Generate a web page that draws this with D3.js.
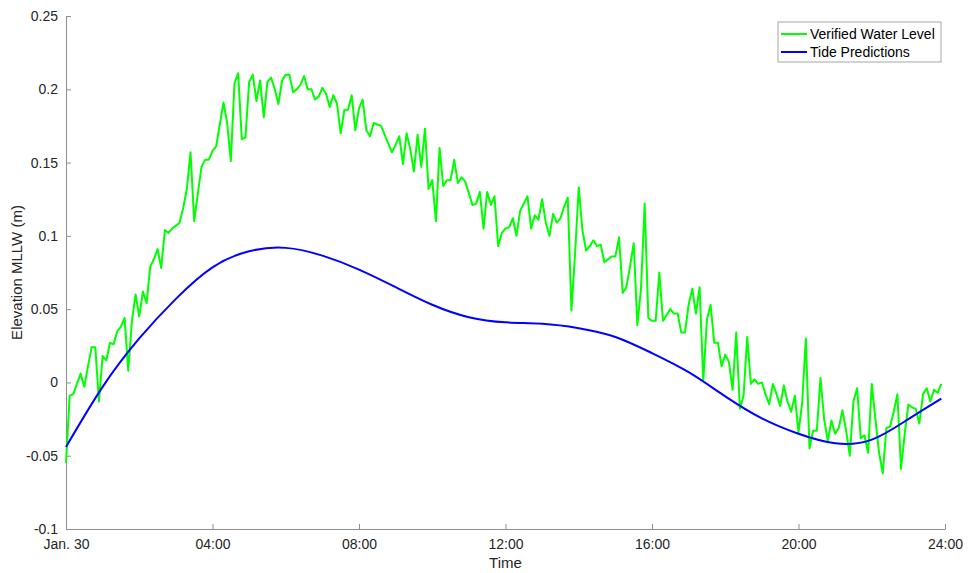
<!DOCTYPE html>
<html>
<head>
<meta charset="utf-8">
<script src="https://cdn.jsdelivr.net/npm/d3@7"></script>
<style>
  body { margin: 0; background: #fff; }
  svg { display: block; font-family: Helvetica, Arial, "Liberation Sans", sans-serif; }
  .axis path, .axis line { stroke: #8f8f8f; }
  .axis text { fill: #262626; font-size: 14px; }
  .axis-label { fill: #262626; font-size: 15px; }
  .legend text { fill: #000; font-size: 14px; }
</style>
</head>
<body>
<div id="chart"></div>
<script>
// verified water level, one reading every 6 minutes from 00:00 (metres, MLLW)
var verifiedStepHours = 0.1;
var verifiedLevel = [
  -0.055, -0.009, -0.008, -0.001, 0.006, -0.003, 0.011, 0.024, 0.024, -0.013,
  0.018, 0.015, 0.027, 0.026, 0.035, 0.038, 0.044, 0.008, 0.042, 0.060,
  0.045, 0.062, 0.054, 0.079, 0.084, 0.091, 0.078, 0.104, 0.102, 0.105,
  0.107, 0.109, 0.119, 0.132, 0.157, 0.110, 0.129, 0.147, 0.152, 0.152,
  0.158, 0.161, 0.176, 0.191, 0.177, 0.151, 0.204, 0.211, 0.166, 0.167,
  0.205, 0.210, 0.192, 0.206, 0.181, 0.205, 0.208, 0.200, 0.190, 0.206,
  0.210, 0.210, 0.198, 0.200, 0.203, 0.209, 0.200, 0.200, 0.193, 0.195,
  0.201, 0.197, 0.188, 0.196, 0.190, 0.170, 0.186, 0.186, 0.196, 0.172,
  0.187, 0.193, 0.172, 0.168, 0.177, 0.176, 0.175, 0.169, 0.163, 0.157,
  0.162, 0.168, 0.149, 0.170, 0.159, 0.144, 0.169, 0.147, 0.173, 0.132,
  0.138, 0.110, 0.160, 0.134, 0.138, 0.138, 0.152, 0.136, 0.140, 0.137,
  0.129, 0.121, 0.122, 0.130, 0.105, 0.130, 0.121, 0.127, 0.093, 0.102,
  0.105, 0.106, 0.112, 0.100, 0.117, 0.122, 0.127, 0.105, 0.114, 0.111,
  0.125, 0.109, 0.100, 0.115, 0.109, 0.112, 0.120, 0.126, 0.049, 0.088,
  0.133, 0.104, 0.090, 0.093, 0.097, 0.093, 0.094, 0.082, 0.084, 0.086,
  0.086, 0.099, 0.061, 0.065, 0.079, 0.095, 0.039, 0.064, 0.122, 0.044,
  0.042, 0.042, 0.075, 0.042, 0.046, 0.050, 0.047, 0.047, 0.034, 0.034,
  0.053, 0.064, 0.047, 0.065, 0.001, 0.043, 0.053, 0.027, 0.027, 0.011,
  0.019, 0.014, -0.005, 0.034, -0.018, -0.009, 0.031, -0.001, 0.002, -0.001,
  0.000, -0.008, -0.015, -0.001, -0.008, -0.016, -0.002, -0.013, -0.020, -0.009,
  -0.034, -0.014, 0.030, -0.045, -0.033, -0.033, 0.003, -0.025, -0.040, -0.026,
  -0.035, -0.031, -0.019, -0.033, -0.050, -0.013, -0.004, -0.038, -0.036, -0.048,
  -0.001, -0.025, -0.048, -0.062, -0.031, -0.030, -0.020, -0.008, -0.059, -0.035,
  -0.015, -0.017, -0.018, -0.028, -0.008, -0.004, -0.013, -0.005, -0.007, -0.001
];

// tide predictions (hours, metres)
var predictionHours = [0, 1, 2, 3, 4, 5, 6, 7, 8, 9, 10, 11, 12, 13, 14, 15, 16, 17, 18, 19, 20, 21, 22, 23, 23.9];
var predictionLevel = [
  -0.044, -0.003, 0.030, 0.057, 0.0785, 0.0895, 0.0918, 0.0865, 0.077, 0.065,
  0.053, 0.0445, 0.041, 0.040, 0.037, 0.031, 0.020, 0.007, -0.0095, -0.0245,
  -0.035, -0.0415, -0.039, -0.025, -0.011
];

var xTickHours = [0, 4, 8, 12, 16, 20, 24];
var xTickLabels = ["Jan. 30", "04:00", "08:00", "12:00", "16:00", "20:00", "24:00"];
var yTickValues = [-0.1, -0.05, 0, 0.05, 0.1, 0.15, 0.2, 0.25];
var yTickLabels = ["-0.1", "-0.05", "0", "0.05", "0.1", "0.15", "0.2", "0.25"];

var seriesNames = ["Verified Water Level", "Tide Predictions"];
var seriesColors = ["#00ff00", "#0000ff"];

(function () {
'use strict';

var width = 971;
var height = 573;
var margin = { top: 16, right: 26, bottom: 44, left: 66 };
var plotW = width - margin.left - margin.right;
var plotH = height - margin.top - margin.bottom;

var svg = d3.select("#chart").append("svg")
    .attr("width", width)
    .attr("height", height);

var g = svg.append("g")
    .attr("transform", "translate(" + margin.left + "," + margin.top + ")");

var x = d3.scaleLinear().domain([0, 24]).range([0, plotW]);
var y = d3.scaleLinear().domain([-0.1, 0.25]).range([plotH, 0]);

var verified = verifiedLevel.map(function (v, i) {
    return { t: i * verifiedStepHours, v: v };
});
var predicted = predictionHours.map(function (h, i) {
    return { t: h, v: predictionLevel[i] };
});

function drawAxes() {
    var xAxis = d3.axisBottom(x)
        .tickValues(xTickHours)
        .tickFormat(function (d, i) { return xTickLabels[i]; })
        .tickSizeInner(-5)
        .tickSizeOuter(0)
        .tickPadding(10);

    var yAxis = d3.axisLeft(y)
        .tickValues(yTickValues)
        .tickFormat(function (d, i) { return yTickLabels[i]; })
        .tickSizeInner(-5)
        .tickSizeOuter(0)
        .tickPadding(8);

    g.append("g")
        .attr("class", "axis axis--x")
        .attr("transform", "translate(0," + plotH + ")")
        .call(xAxis);

    g.append("g")
        .attr("class", "axis axis--y")
        .call(yAxis);

    g.append("text")
        .attr("class", "axis-label")
        .attr("x", plotW / 2)
        .attr("y", plotH + 39)
        .attr("text-anchor", "middle")
        .text("Time");

    g.append("text")
        .attr("class", "axis-label")
        .attr("transform", "translate(" + (-44) + "," + (plotH / 2) + ") rotate(-90)")
        .attr("text-anchor", "middle")
        .text("Elevation MLLW (m)");
}

function drawSeries(data, color, curve) {
    var line = d3.line()
        .x(function (d) { return x(d.t); })
        .y(function (d) { return y(d.v); })
        .curve(curve);

    g.append("path")
        .datum(data)
        .attr("fill", "none")
        .attr("stroke", color)
        .attr("stroke-width", 2)
        .attr("stroke-linejoin", "round")
        .attr("d", line);
}

function drawLegend() {
    var legend = svg.append("g")
        .attr("class", "legend")
        .attr("transform", "translate(778,22)");

    legend.append("rect")
        .attr("width", 163)
        .attr("height", 40)
        .attr("fill", "#fff")
        .attr("stroke", "#a6a6a6")
        .attr("stroke-width", 1);

    var rows = legend.selectAll("g.row")
        .data(seriesNames)
        .enter().append("g")
        .attr("class", "row")
        .attr("transform", function (d, i) { return "translate(0," + (12 + i * 18) + ")"; });

    rows.append("line")
        .attr("x1", 3)
        .attr("x2", 29)
        .attr("stroke", function (d, i) { return seriesColors[i]; })
        .attr("stroke-width", 2);

    rows.append("text")
        .attr("x", 32)
        .attr("dy", "0.35em")
        .text(function (d) { return d; });
}

drawAxes();
drawSeries(verified, seriesColors[0], d3.curveLinear);
drawSeries(predicted, seriesColors[1], d3.curveNatural);
drawLegend();
})();
</script>
</body>
</html>
